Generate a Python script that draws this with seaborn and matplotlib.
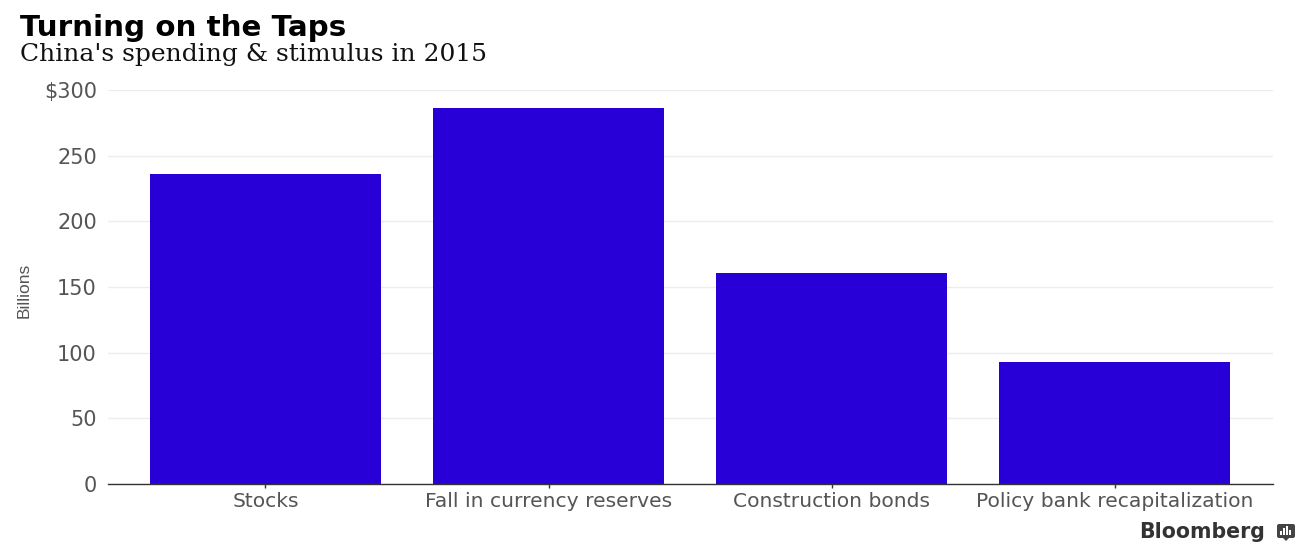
import pandas as pd
import seaborn as sns
import matplotlib.pyplot as plt
from matplotlib.patches import FancyBboxPatch, Rectangle, Polygon

categories = ["Stocks", "Fall in currency reserves", "Construction bonds", "Policy bank recapitalization"]
values = [236, 286, 161, 93]
y_ticks = [0, 50, 100, 150, 200, 250, 300]
y_labels = ["0", "50", "100", "150", "200", "250", "$300"]
icon_bars = [4, 7, 9, 5]

W, H = 1307, 548
df = pd.DataFrame({"category": categories, "value": values})

sns.set_theme(style="white")
plt.rcParams["font.family"] = ["DejaVu Sans"]

fig = plt.figure(figsize=(W / 100, H / 100), dpi=100)
ax = fig.add_axes([108 / W, 1 - 484 / H, (1273 - 108) / W, (484 - 90) / H])

sns.barplot(x="category", y="value", data=df, color="#2800D7", saturation=1, width=0.816, linewidth=0, ax=ax)

ax.set_xlim(-0.5565, 3.56)
ax.set_ylim(0, 300)
ax.set_xlabel("")
ax.set_ylabel("")
ax.set_yticks(y_ticks)
ax.set_yticklabels(y_labels, fontsize=15, color="#555555")
ax.tick_params(axis="y", length=0, pad=8)
ax.tick_params(axis="x", bottom=True, length=3, width=1, color="#333333", pad=3, labelsize=14.6, labelcolor="#555555")
ax.yaxis.grid(True, color="#EDEDED", linewidth=1)
ax.set_axisbelow(True)

for side in ["top", "right", "left"]:
    ax.spines[side].set_visible(False)
ax.spines["bottom"].set_color("#333333")
ax.spines["bottom"].set_linewidth(1)

fig.text(20 / W, 1 - 36 / H, "Turning on the Taps", fontsize=21.2, fontweight="bold", color="#000000", family="DejaVu Sans")
fig.text(20 / W, 1 - 61 / H, "China's spending & stimulus in 2015", fontsize=18, color="#111111", family="DejaVu Serif")
fig.text(24 / W, 1 - 290 / H, "Billions", fontsize=12.5, color="#555555", rotation=90, ha="center", va="center",
         family="Liberation Sans")
fig.text(1265 / W, 1 - 538 / H, "Bloomberg", fontsize=14.8, fontweight="bold", color="#333333", ha="right",
         family="DejaVu Sans")

# small logo next to the wordmark
fig.add_artist(FancyBboxPatch((1277, H - 538), 18, 14, boxstyle="round,pad=0,rounding_size=2",
                              transform=None, facecolor="#444444", edgecolor="none"))
fig.add_artist(Polygon([(1283, H - 538), (1289, H - 538), (1286, H - 541)], transform=None,
                       facecolor="#444444", edgecolor="none"))
for i, h in enumerate(icon_bars):
    fig.add_artist(Rectangle((1280 + i * 3, H - 535), 2, h, transform=None, facecolor="white", edgecolor="none"))

fig.savefig("out.png", dpi=100)
plt.close(fig)
